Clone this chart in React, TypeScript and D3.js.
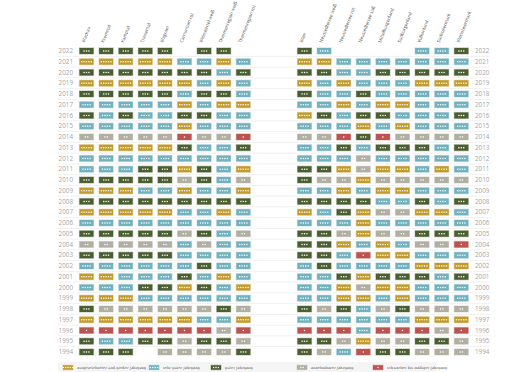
import * as d3 from 'd3';

// rating codes: 5 = ausgezeichnet, 4 = sehr gut, 3 = gut, 2 = annehmbar, 1 = schwach, 0 = kein Eintrag
const years = d3.range(2022, 1993, -1);

const leftRegions = ['Wachau', 'Kremstal', 'Kamptal', 'Traisental', 'Wagram', 'Carnuntum rot', 'Weinviertel weiß', 'Thermenregion weiß', 'Thermenregion rot'];
const rightRegions = ['Wien', 'Neusiedlersee weiß', 'Neusiedlersee rot', 'Neusiedlersee süß', 'Mittelburgenland', 'Südburgenland', 'Vulkanland', 'Südsteiermark', 'Weststeiermark'];

// one string per year (2022 -> 1994), one char per region
const leftRatings = [
  '333330330',
  '555554454',
  '333333343',
  '555555454',
  '333334334',
  '444445455',
  '343443344',
  '444445444',
  '222221221',
  '555553443',
  '444444444',
  '444335345',
  '333332342',
  '555445445',
  '333333333',
  '555554454',
  '444444444',
  '333332342',
  '222224244',
  '333334444',
  '444444344',
  '554443454',
  '444335345',
  '555444444',
  '322222232',
  '555555445',
  '111111121',
  '344332332',
  '333022223',
];

const rightRatings = [
  '340000443',
  '554444444',
  '334433333',
  '545444555',
  '344344444',
  '445455444',
  '534334443',
  '444545444',
  '221312222',
  '443433343',
  '444244444',
  '335255454',
  '322522222',
  '445455444',
  '333344343',
  '543522554',
  '444544444',
  '332522333',
  '335454221',
  '334155444',
  '434444555',
  '443533343',
  '445255444',
  '445545444',
  '323423222',
  '444444555',
  '111411121',
  '332522332',
  '324133222',
];

const legendLabels = ['ausgezeichneter und großer Jahrgang', 'sehr guter Jahrgang', 'guter Jahrgang', 'annehmbarer Jahrgang', 'schwacher bis mäßiger Jahrgang'];
const legendValues = [5, 4, 3, 2, 1];

const colors: Record<number, string> = {
  5: '#c29b2e',
  4: '#72b1be',
  3: '#4b5f32',
  2: '#b1aea2',
  1: '#bb5451',
};

const cellW = 14;
const cellH = 6;

function Cell({ cx, cy, value, w = cellW, h = cellH }: { cx: number; cy: number; value: number; w?: number; h?: number }) {
  const dot = 1.3;
  const step = 2.4;
  const total = value * step - (step - dot);
  return (
    <g>
      <rect
        x={cx - w / 2}
        y={cy - h / 2}
        width={w}
        height={h}
        fill={colors[value]}
        stroke={colors[value]}
        strokeOpacity={0.35}
        strokeWidth={1.2}
      />
      {d3.range(value).map((i) => (
        <rect key={i} x={cx - total / 2 + i * step} y={cy - dot / 2} width={dot} height={dot} fill="#fff" />
      ))}
    </g>
  );
}

export default function App() {
  const width = 520;
  const height = 372;

  const y = d3.scaleBand<number>().domain(years).range([45.6, 45.6 + years.length * 10.75]);
  const xLeft = d3.scaleBand<string>().domain(leftRegions).range([76.7, 253.1]);
  const xRight = d3.scaleBand<string>().domain(rightRegions).range([294.7, 471.1]);

  const groups = [
    { regions: leftRegions, ratings: leftRatings, x: xLeft },
    { regions: rightRegions, ratings: rightRatings, x: xRight },
  ];

  const legendX = [63, 149, 211, 297, 373];

  return (
    <svg width={width} height={height} style={{ position: 'absolute', left: 0, top: 0, background: '#fff' }}>
      {years.slice(0, -1).map((yr) => (
        <line key={yr} x1={58} x2={490} y1={y(yr)! + y.bandwidth()} y2={y(yr)! + y.bandwidth()} stroke="#ececec" strokeWidth={0.8} />
      ))}

      {years.map((yr) => {
        const cy = y(yr)! + y.bandwidth() / 2;
        return (
          <g key={yr} fontFamily="'Open Sans', sans-serif" fontSize={6.3} fill="#a5a5a5">
            <text x={73} y={cy} dy="0.35em" textAnchor="end">{yr}</text>
            <text x={475} y={cy} dy="0.35em">{yr}</text>
          </g>
        );
      })}

      {groups.map((grp, gi) => (
        <g key={gi}>
          {grp.regions.map((r) => {
            const cx = grp.x(r)! + grp.x.bandwidth() / 2;
            return (
              <text
                key={r}
                transform={`translate(${cx - 2},${43}) rotate(-69)`}
                fontFamily="'Open Sans', sans-serif"
                fontSize={4.5}
                fill="#555"
              >
                {r}
              </text>
            );
          })}
          {years.map((yr, yi) =>
            grp.regions.map((r, ri) => {
              const v = +grp.ratings[yi][ri];
              if (!v) return null;
              const cx = grp.x(r)! + grp.x.bandwidth() / 2;
              const cy = y(yr)! + y.bandwidth() / 2;
              return <Cell key={`${yr}-${r}`} cx={cx} cy={cy} value={v} />;
            })
          )}
        </g>
      ))}

      <rect x={58} y={362} width={379} height={12} fill="#f5f5f5" />
      {legendValues.map((v, i) => (
        <g key={v}>
          <Cell cx={legendX[i] + 5} cy={367.5} value={v} w={10} h={4.5} />
          <text x={legendX[i] + 14} y={367.5} dy="0.35em" fontFamily="'DejaVu Serif', serif" fontSize={3.6} fill="#555">
            {legendLabels[i]}
          </text>
        </g>
      ))}
    </svg>
  );
}
